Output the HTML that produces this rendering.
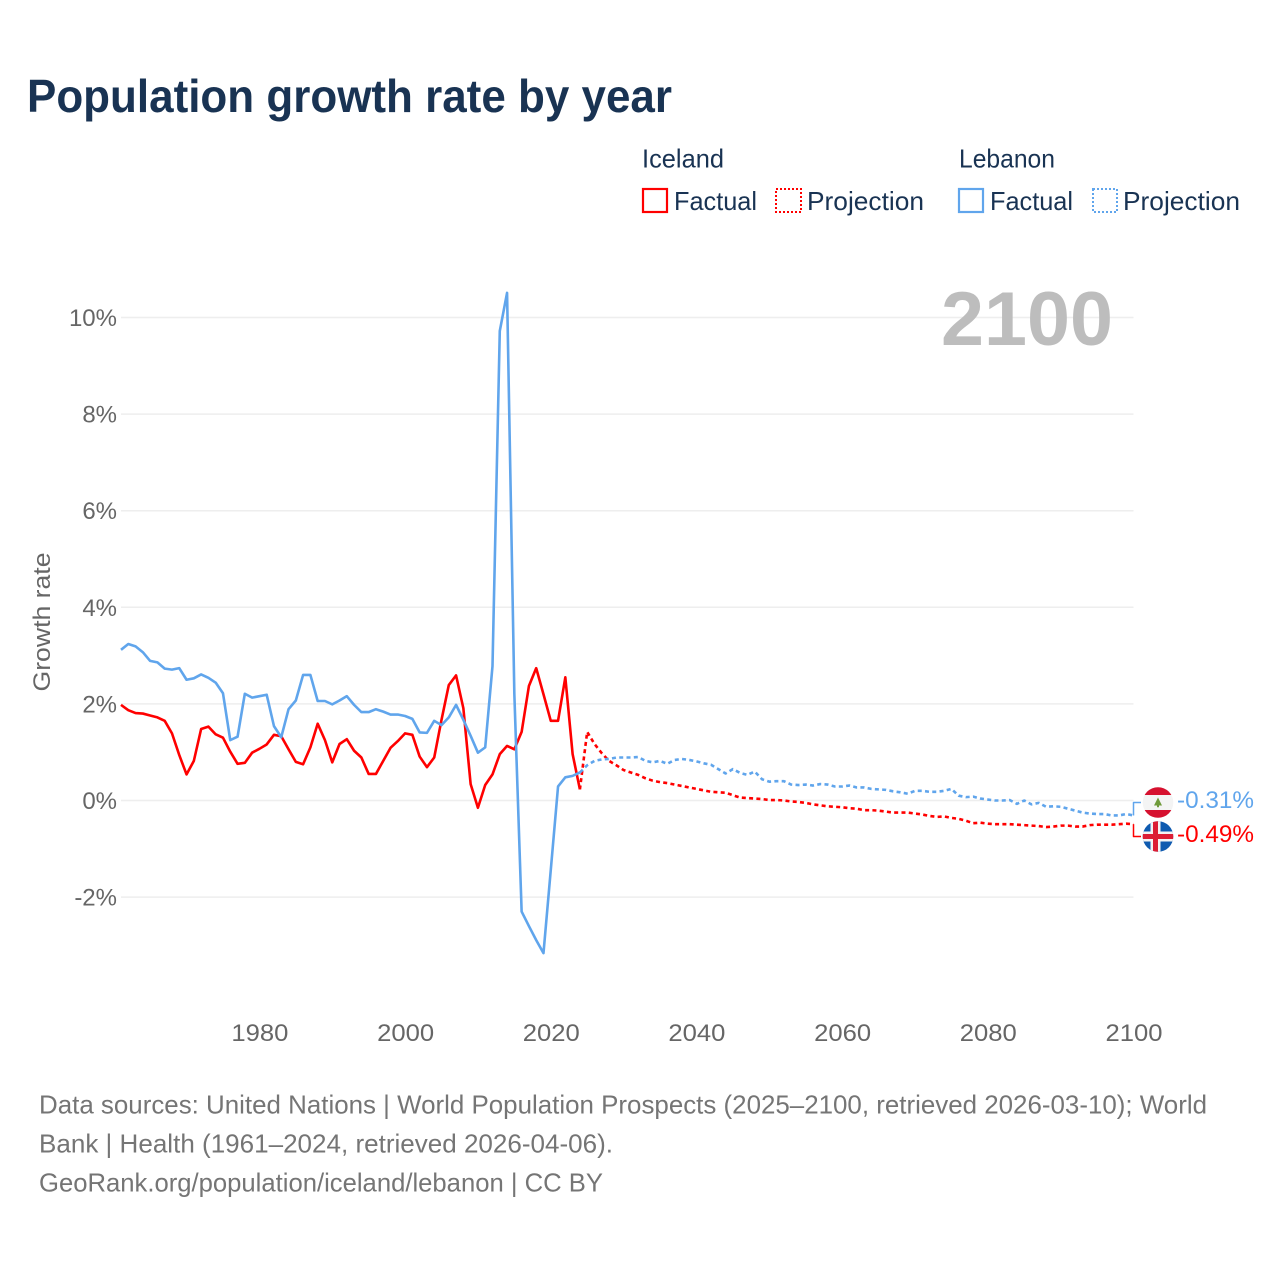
<!DOCTYPE html>
<html lang="en">
<head>
<meta charset="utf-8">
<title>Population growth rate by year</title>
<style>
html,body{margin:0;padding:0;background:#fff;}
svg{display:block;font-family:"Liberation Sans",sans-serif;}
</style>
</head>
<body>
<svg id="chart" xmlns="http://www.w3.org/2000/svg" width="1280" height="1280" viewBox="0 0 1280 1280">
  <defs>
    <clipPath id="clip-lb"><circle cx="1158" cy="802.5" r="15.3"/></clipPath>
    <clipPath id="clip-is"><circle cx="1158" cy="836.5" r="15.3"/></clipPath>
  </defs>
  <rect x="0" y="0" width="1280" height="1280" fill="#ffffff"/>
  <text x="27" y="112" font-size="46" font-weight="700" fill="#193353" textLength="645" lengthAdjust="spacingAndGlyphs">Population growth rate by year</text>

  <g font-size="26" fill="#193353">
    <text x="642" y="167.5" textLength="82" lengthAdjust="spacingAndGlyphs">Iceland</text>
    <text x="959" y="167.5" textLength="96" lengthAdjust="spacingAndGlyphs">Lebanon</text>
    <g>
      <rect x="643" y="189" width="24" height="23" fill="none" stroke="#ff0000" stroke-width="2.2"/>
      <text x="674" y="210" textLength="83" lengthAdjust="spacingAndGlyphs">Factual</text>
    </g>
    <g>
      <rect x="776" y="189" width="25" height="23" fill="none" stroke="#ff0000" stroke-width="2" stroke-dasharray="2 2"/>
      <text x="807" y="210" textLength="117" lengthAdjust="spacingAndGlyphs">Projection</text>
    </g>
    <g>
      <rect x="959" y="189" width="24" height="23" fill="none" stroke="#60a5ec" stroke-width="2.2"/>
      <text x="990" y="210" textLength="83" lengthAdjust="spacingAndGlyphs">Factual</text>
    </g>
    <g>
      <rect x="1093" y="189" width="24" height="23" fill="none" stroke="#60a5ec" stroke-width="2" stroke-dasharray="2 2"/>
      <text x="1123" y="210" textLength="117" lengthAdjust="spacingAndGlyphs">Projection</text>
    </g>
  </g>

  <g id="grid"></g>
  <text x="941" y="345" font-size="76" font-weight="700" fill="#bdbdbd" textLength="172" lengthAdjust="spacingAndGlyphs">2100</text>
  <g id="yticks" font-size="24" fill="#666666" text-anchor="end"></g>
  <g id="xticks" font-size="24" fill="#666666" text-anchor="middle"></g>
  <text font-size="24" fill="#666666" text-anchor="middle" transform="translate(50 622) rotate(-90)" textLength="139" lengthAdjust="spacingAndGlyphs">Growth rate</text>
  <g id="series" fill="none" stroke-linejoin="round"></g>

  <g clip-path="url(#clip-lb)">
    <rect x="1142" y="787" width="32" height="32" fill="#f4f4f4"/>
    <rect x="1142" y="787" width="32" height="8" fill="#d6112f"/>
    <rect x="1142" y="810" width="32" height="9" fill="#d6112f"/>
    <path d="M1158 797.5l4 8h-3v1.8h-2v-1.8h-3z" fill="#6f9a3a"/>
  </g>
  <g clip-path="url(#clip-is)">
    <rect x="1142" y="821" width="32" height="32" fill="#0f5bb0"/>
    <rect x="1142" y="831.5" width="32" height="10" fill="#f4f4f4"/>
    <rect x="1150.5" y="821" width="10" height="32" fill="#f4f4f4"/>
    <rect x="1142" y="834" width="32" height="5" fill="#dc1e35"/>
    <rect x="1153" y="821" width="5" height="32" fill="#dc1e35"/>
  </g>
  <text x="1177" y="808" font-size="24" fill="#60a5ec" textLength="77" lengthAdjust="spacingAndGlyphs">-0.31%</text>
  <text x="1177" y="842" font-size="24" fill="#ff0000" textLength="77" lengthAdjust="spacingAndGlyphs">-0.49%</text>

  <g font-size="26" fill="#757575">
    <text x="39" y="1113.5" textLength="1168" lengthAdjust="spacingAndGlyphs">Data sources: United Nations | World Population Prospects (2025–2100, retrieved 2026-03-10); World</text>
    <text x="39" y="1152.5" textLength="574" lengthAdjust="spacingAndGlyphs">Bank | Health (1961–2024, retrieved 2026-04-06).</text>
    <text x="39" y="1191.5" textLength="564" lengthAdjust="spacingAndGlyphs">GeoRank.org/population/iceland/lebanon | CC BY</text>
  </g>
</svg>
<script>
const yTickValues = [10, 8, 6, 4, 2, 0, -2];
const yTickLabels = ["10%", "8%", "6%", "4%", "2%", "0%", "-2%"];
const xTickYears = [1980, 2000, 2020, 2040, 2060, 2080, 2100];
const xTickLabels = ["1980", "2000", "2020", "2040", "2060", "2080", "2100"];

const factualStartYear = 1961;
const projectionStartYear = 2024;

const icelandFactual = [1.98,1.87,1.81,1.80,1.76,1.72,1.65,1.39,0.94,0.54,0.82,1.48,1.53,1.37,1.30,1.01,0.76,0.78,0.99,1.07,1.16,1.36,1.33,1.06,0.80,0.75,1.10,1.59,1.25,0.79,1.17,1.27,1.03,0.89,0.55,0.55,0.82,1.09,1.23,1.39,1.36,0.91,0.69,0.89,1.67,2.39,2.59,1.91,0.34,-0.15,0.32,0.54,0.96,1.13,1.06,1.42,2.37,2.74,2.20,1.65,1.65,2.55,0.96,0.23];
const lebanonFactual = [3.12,3.24,3.19,3.07,2.89,2.86,2.73,2.71,2.74,2.50,2.53,2.61,2.54,2.44,2.22,1.25,1.32,2.21,2.13,2.16,2.19,1.54,1.31,1.89,2.07,2.60,2.60,2.06,2.06,1.99,2.07,2.16,1.98,1.83,1.83,1.89,1.84,1.78,1.78,1.75,1.69,1.41,1.40,1.65,1.56,1.72,1.98,1.67,1.34,0.99,1.10,2.78,9.72,10.51,2.20,-2.30,-2.60,-2.89,-3.16,-1.44,0.29,0.48,0.51,0.58];
const icelandProjection = [0.23,1.42,1.17,0.98,0.82,0.73,0.63,0.58,0.53,0.46,0.41,0.38,0.36,0.33,0.30,0.27,0.24,0.21,0.18,0.17,0.16,0.11,0.06,0.05,0.04,0.03,0.01,0.01,0.00,-0.02,-0.03,-0.05,-0.08,-0.10,-0.12,-0.13,-0.14,-0.16,-0.17,-0.20,-0.20,-0.21,-0.23,-0.25,-0.25,-0.25,-0.27,-0.29,-0.32,-0.34,-0.33,-0.36,-0.38,-0.42,-0.47,-0.46,-0.48,-0.49,-0.49,-0.49,-0.50,-0.51,-0.52,-0.53,-0.55,-0.54,-0.52,-0.52,-0.54,-0.54,-0.51,-0.50,-0.50,-0.50,-0.49,-0.48,-0.49];
const lebanonProjection = [0.58,0.73,0.82,0.85,0.86,0.89,0.89,0.89,0.90,0.82,0.79,0.82,0.76,0.84,0.86,0.84,0.81,0.77,0.74,0.65,0.56,0.65,0.57,0.53,0.60,0.44,0.39,0.40,0.40,0.33,0.32,0.33,0.31,0.34,0.33,0.29,0.29,0.31,0.27,0.27,0.24,0.23,0.22,0.19,0.17,0.14,0.20,0.20,0.18,0.18,0.20,0.24,0.10,0.07,0.08,0.04,0.02,0.00,0.00,0.01,-0.07,0.00,-0.08,-0.05,-0.13,-0.12,-0.13,-0.17,-0.21,-0.25,-0.27,-0.28,-0.28,-0.31,-0.31,-0.28,-0.31];

const NS = "http://www.w3.org/2000/svg";
const plotLeft = 121, plotRight = 1133.5;
function xScale(year) { return plotLeft + (year - 1961) * (plotRight - plotLeft) / (2100 - 1961); }
function yScale(value) { return 800.5 - value * 48.3; }

function make(tag, parent) {
  const el = document.createElementNS(NS, tag);
  parent.appendChild(el);
  return el;
}
function linePath(values, startYear) {
  return values.map(function (v, i) {
    return (i ? "L" : "M") + xScale(startYear + i).toFixed(2) + " " + yScale(v).toFixed(2);
  }).join("");
}

const gridGroup = document.getElementById("grid");
const yTickGroup = document.getElementById("yticks");
yTickValues.forEach(function (v, i) {
  const line = make("line", gridGroup);
  
  
  line.setAttribute("x1", plotLeft);
  line.setAttribute("x2", plotRight);
  line.setAttribute("y1", yScale(v));
  line.setAttribute("y2", yScale(v));
  line.setAttribute("stroke", "#eeeeee");
  line.setAttribute("stroke-width", "1.5");
  const label = make("text", yTickGroup);
  
  
  label.setAttribute("x", 117);
  label.setAttribute("y", yScale(v) + 8.5);
  label.textContent = yTickLabels[i];
});

const xTickGroup = document.getElementById("xticks");
xTickYears.forEach(function (year, i) {
  const label = make("text", xTickGroup);
  
  
  label.setAttribute("x", xScale(year) + 0.5);
  label.setAttribute("y", 1041);
  label.setAttribute("textLength", "57");
  label.setAttribute("lengthAdjust", "spacingAndGlyphs");
  label.textContent = xTickLabels[i];
});

const seriesGroup = document.getElementById("series");
const RED = "#ff0000", BLUE = "#60a5ec";

const icelandProjLine = make("path", seriesGroup);


icelandProjLine.setAttribute("d", linePath(icelandProjection, projectionStartYear));
icelandProjLine.setAttribute("stroke", RED);
icelandProjLine.setAttribute("stroke-width", "2.6");
icelandProjLine.setAttribute("stroke-dasharray", "4 3.3");

const icelandLine = make("path", seriesGroup);


icelandLine.setAttribute("d", linePath(icelandFactual, factualStartYear));
icelandLine.setAttribute("stroke", RED);
icelandLine.setAttribute("stroke-width", "2.6");

const lebanonProjLine = make("path", seriesGroup);


lebanonProjLine.setAttribute("d", linePath(lebanonProjection, projectionStartYear));
lebanonProjLine.setAttribute("stroke", BLUE);
lebanonProjLine.setAttribute("stroke-width", "2.6");
lebanonProjLine.setAttribute("stroke-dasharray", "4 3.3");

const lebanonLine = make("path", seriesGroup);


lebanonLine.setAttribute("d", linePath(lebanonFactual, factualStartYear));
lebanonLine.setAttribute("stroke", BLUE);
lebanonLine.setAttribute("stroke-width", "2.6");

function connector(lastValue, flagY) {
  const x = xScale(2100);
  return "M" + x + " " + yScale(lastValue).toFixed(2) + "V" + flagY + "H1141";
}
const icelandConnector = make("path", seriesGroup);


icelandConnector.setAttribute("d", connector(icelandProjection[icelandProjection.length - 1], 836.5));
icelandConnector.setAttribute("stroke", RED);
icelandConnector.setAttribute("stroke-width", "1.5");

const lebanonConnector = make("path", seriesGroup);


lebanonConnector.setAttribute("d", connector(lebanonProjection[lebanonProjection.length - 1], 802.5));
lebanonConnector.setAttribute("stroke", BLUE);
lebanonConnector.setAttribute("stroke-width", "1.5");
</script>
</body>
</html>
